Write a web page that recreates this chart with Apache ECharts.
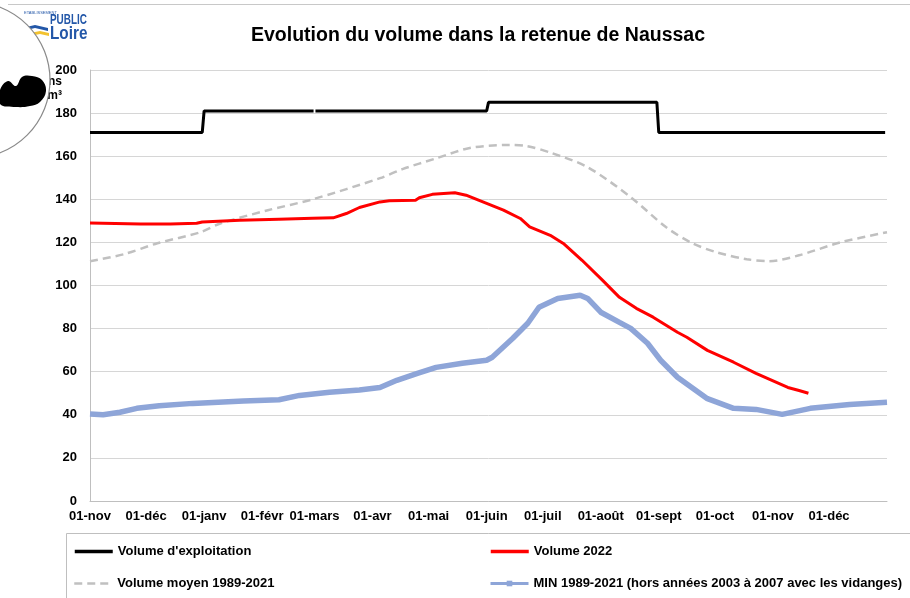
<!DOCTYPE html>
<html>
<head>
<meta charset="utf-8">
<script src="https://cdn.jsdelivr.net/npm/echarts@6/dist/echarts.min.js"></script>
<style>
  html, body { margin: 0; padding: 0; background: #fff; }
  #chart { width: 910px; height: 598px; }
</style>
</head>
<body>
<div id="chart"></div>
<script>
// jours depuis le 01-nov
var monthDays = [0, 30, 61, 92, 120, 151, 181, 212, 242, 273, 304, 334, 365, 395];
var monthLabels = ['01-nov', '01-déc', '01-janv', '01-févr', '01-mars', '01-avr', '01-mai',
  '01-juin', '01-juil', '01-août', '01-sept', '01-oct', '01-nov', '01-déc'];

// Volume d'exploitation
var exploitDays = [0, 60, 61, 119.5, 120, 120.5, 212, 213, 303, 304, 425];
var exploitVals = [171, 171, 181, 181, '-', 181, 181, 185, 185, 171, 171];

// Volume 2022
var vol2022Days = [0, 27, 43, 57, 60, 80, 101, 119, 130, 137, 144, 155, 160, 174, 176, 183, 195, 201,
  210, 221, 230, 235, 246, 253, 263, 274, 283, 292, 301, 314, 319, 330, 344, 356, 373, 379, 384];
var vol2022Vals = [129, 128.5, 128.5, 128.9, 129.5, 130.3, 130.8, 131.2, 131.4, 133.4, 136.2, 138.8, 139.3,
  139.6, 140.7, 142.3, 143, 141.9, 138.8, 135, 131.1, 127.2, 123.3, 119.5, 111.7, 102.4, 94.5, 89.4,
  85.3, 78.3, 76, 69.9, 64.4, 59.2, 52.7, 51.3, 50];

// Volume moyen 1989-2021
var moyenDays = [0, 18, 36, 59, 70, 95, 119, 155, 167, 185, 203, 224, 233, 247, 266, 289, 308, 322,
  335, 351, 363, 379, 401, 426];
var moyenVals = [111.3, 114.5, 119.6, 124.7, 128.9, 134.9, 140, 149.8, 154, 159, 163.8, 165.2, 164.8,
  161.4, 154.9, 141, 127, 119.6, 115.4, 112.2, 111.3, 114, 120, 124.7];

// MIN 1989-2021
var minDays = [0, 7, 16, 25, 37, 55, 82, 101, 112, 128, 144, 155, 164, 175, 185, 199, 212, 215, 226,
  234, 240, 250, 262, 266, 273, 283, 289, 298, 305, 314, 330, 344, 356, 370, 385, 406, 426];
var minVals = [40.4, 40, 41.2, 43, 44.2, 45.3, 46.4, 47, 49, 50.5, 51.5, 52.7, 56, 59.2, 62, 63.9,
  65.3, 66.7, 75.5, 82.5, 89.9, 94, 95.5, 94, 87.6, 82.9, 80.1, 73.2, 65.3, 57.4, 47.5, 43, 42.5,
  40.2, 43, 44.8, 45.8];

function pairs(xs, ys) {
  return xs.map(function (x, i) { return [x, ys[i]]; });
}

var font = 'Liberation Sans, Arial, sans-serif';
var legendText = { fontFamily: font, fontWeight: 'bold', fontSize: 13, color: '#000' };

function legendBox(name, left, top, lw, withMarker) {
  return {
    data: [name], left: left, top: top, padding: 0,
    itemWidth: 38, itemHeight: withMarker ? 7 : 10, itemGap: 0,
    itemStyle: withMarker ? {} : { opacity: 0 },
    lineStyle: { width: lw },
    textStyle: legendText
  };
}

var chart = echarts.init(document.getElementById('chart'));
var option = {
  animation: false,
  title: {
    text: 'Evolution du volume dans la retenue de Naussac',
    left: 473, top: 21, textAlign: 'center',
    textStyle: { fontFamily: font, fontWeight: 'bold', fontSize: 19.5, color: '#000' }
  },
  grid: { left: 90, right: 23, top: 70, bottom: 97 },
  xAxis: {
    type: 'value', min: 0, max: 426,
    axisLine: { lineStyle: { color: '#BFBFBF' } },
    axisTick: { show: false },
    splitLine: { show: false },
    axisLabel: {
      customValues: monthDays,
      margin: 9,
      fontFamily: font, fontWeight: 'bold', fontSize: 13, color: '#000',
      formatter: function (v) { return monthLabels[monthDays.indexOf(v)]; }
    }
  },
  yAxis: {
    type: 'value', min: 0, max: 200, interval: 20,
    axisLine: { show: true, lineStyle: { color: '#BFBFBF' } },
    axisTick: { show: false },
    splitLine: { lineStyle: { color: '#D6D6D6' } },
    axisLabel: { margin: 13, fontFamily: font, fontWeight: 'bold', fontSize: 13, color: '#000' }
  },
  legend: [
    legendBox("Volume d'exploitation", 73, 545, 3.5, false),
    legendBox('Volume 2022', 489, 545, 3.5, false),
    legendBox('Volume moyen 1989-2021', 73, 577, 2.5, false),
    legendBox('MIN 1989-2021 (hors années 2003 à 2007 avec les vidanges)', 489, 577, 3, true)
  ],
  series: [
    {
      name: 'MIN 1989-2021 (hors années 2003 à 2007 avec les vidanges)',
      type: 'line', symbol: 'rect', symbolSize: 6, showSymbol: false,
      itemStyle: { color: '#8EA5D8' },
      lineStyle: { color: '#8EA5D8', width: 5.5 },
      data: pairs(minDays, minVals)
    },
    {
      name: 'Volume moyen 1989-2021',
      type: 'line', symbol: 'none', smooth: 0.3,
      itemStyle: { color: '#C0C0C0' },
      lineStyle: { color: '#C0C0C0', width: 2.5, type: [8, 5] },
      data: pairs(moyenDays, moyenVals)
    },
    {
      name: 'Volume 2022',
      type: 'line', symbol: 'none',
      itemStyle: { color: '#FF0000' },
      lineStyle: { color: '#FF0000', width: 3 },
      data: pairs(vol2022Days, vol2022Vals)
    },
    {
      name: "Volume d'exploitation",
      type: 'line', symbol: 'none',
      itemStyle: { color: '#000' },
      lineStyle: { color: '#000', width: 3 },
      data: pairs(exploitDays, exploitVals)
    }
  ],
  graphic: [
    // trait du cadre en haut
    { type: 'line', shape: { x1: 8, y1: 4.5, x2: 910, y2: 4.5 }, style: { stroke: '#C8C8C8', lineWidth: 1 }, z: -10 },
    // cadre de légende
    { type: 'rect', shape: { x: 66.5, y: 533.5, width: 1000, height: 100 }, style: { fill: 'none', stroke: '#BFBFBF', lineWidth: 1 }, z: -5 },
    // unité
    { type: 'text', x: 62, y: 76, style: { text: 'Millions', align: 'right', font: 'bold 12px ' + font, fill: '#000' }, z: 1 },
    { type: 'text', x: 62, y: 90, style: { text: 'de m³', align: 'right', font: 'bold 12px ' + font, fill: '#000' }, z: 1 },
    // logo
    { type: 'text', x: 24, y: 11, style: { text: 'ETABLISSEMENT', font: '4px ' + font, fill: '#2357A8' }, z: 2 },
    { type: 'text', x: 50, y: 12, scaleX: 0.66, style: { text: 'PUBLIC', font: 'bold 15px ' + font, fill: '#2357A8' }, z: 2 },
    { type: 'text', x: 50, y: 25, scaleX: 0.85, style: { text: 'Loire', font: 'bold 18px ' + font, fill: '#2357A8' }, z: 2 },
    { type: 'polygon', shape: { points: [[22, 28], [35, 25], [48, 28], [48, 31], [35, 28], [22, 31]] }, style: { fill: '#2357A8' }, z: 2 },
    { type: 'polygon', shape: { points: [[30, 33], [40, 31], [49, 33], [49, 36], [40, 34], [30, 36]] }, style: { fill: '#F2C230' }, z: 2 },
    // cercle superposé
    { type: 'circle', shape: { cx: -28, cy: 80, r: 78 }, style: { fill: '#fff', stroke: '#8A8A8A', lineWidth: 1.2 }, z: 10 },
    { type: 'polygon', shape: { smooth: 0.4, points: [[0, 90], [8, 81], [16, 86], [22, 77], [32, 76], [42, 80], [46, 91], [40, 102], [30, 106], [16, 107], [0, 104]] }, style: { fill: '#000' }, z: 11 }
  ]
};
chart.setOption(option);
</script>
</body>
</html>
